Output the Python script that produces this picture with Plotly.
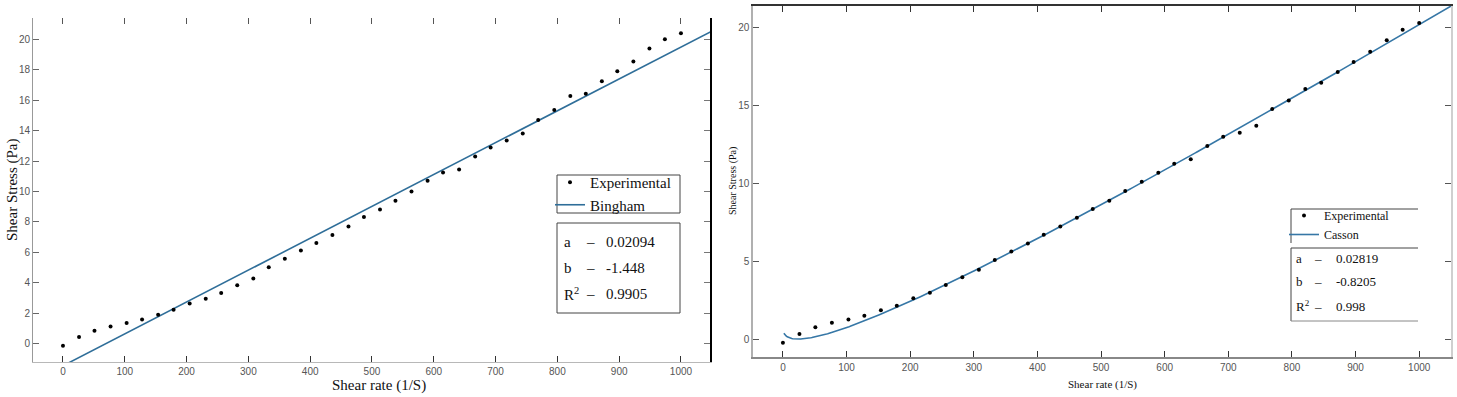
import numpy as np
import plotly.graph_objects as go

W, H = 1457, 397

# ---------------- data ----------------
shear_rate = [0, 26, 51, 77, 103, 128, 154, 179, 205, 231, 256, 282, 308, 333, 359, 385,
              410, 436, 462, 487, 513, 538, 564, 590, 615, 641, 667, 692, 718, 744, 769,
              795, 821, 846, 872, 897, 923, 949, 974, 1000]

stress_left = [-0.13, 0.44, 0.86, 1.14, 1.36, 1.60, 1.91, 2.24, 2.65, 2.96, 3.33, 3.84, 4.28,
               5.02, 5.59, 6.12, 6.62, 7.15, 7.70, 8.33, 8.82, 9.40, 10.0, 10.7, 11.25, 11.45,
               12.3, 12.9, 13.36, 13.82, 14.7, 15.35, 16.27, 16.43, 17.24, 17.9, 18.55, 19.39,
               20.0, 20.39]

stress_right = [-0.24, 0.32, 0.75, 1.05, 1.26, 1.49, 1.84, 2.14, 2.61, 2.97, 3.46, 3.97, 4.44,
                5.06, 5.62, 6.13, 6.69, 7.22, 7.78, 8.33, 8.87, 9.49, 10.08, 10.66, 11.24, 11.52,
                12.37, 12.97, 13.22, 13.67, 14.74, 15.3, 16.03, 16.43, 17.12, 17.76, 18.42,
                19.15, 19.83, 20.26]

bingham_a, bingham_b, bingham_r2 = 0.02094, -1.448, 0.9905
casson_a, casson_b, casson_r2 = 0.02819, -0.8205, 0.998

x_ticks = [0, 100, 200, 300, 400, 500, 600, 700, 800, 900, 1000]
left_y_ticks = [0, 2, 4, 6, 8, 10, 12, 14, 16, 18, 20]
right_y_ticks = [0, 5, 10, 15, 20]

# fitted model curves (evaluated from the fitted parameters)
xb = np.array([0.0, 1060.0])
yb = bingham_a * xb + bingham_b
xc = np.linspace(1.5, 1060, 600)
yc = (np.sqrt(casson_a * xc) + casson_b) ** 2

SERIF = "Liberation Serif, Times New Roman, serif"
SANS = "Liberation Sans, Arial, sans-serif"

def px(xp):
    return xp / W

def py(yp):
    return 1 - yp / H

fig = go.Figure()

# ---------- left panel (Bingham) ----------
fig.add_trace(go.Scatter(x=xb, y=yb, mode="lines", name="Bingham",
                         line=dict(color="#2f6e99", width=1.6),
                         xaxis="x", yaxis="y", legend="legend", legendrank=2))
fig.add_trace(go.Scatter(x=shear_rate, y=stress_left, mode="markers", name="Experimental",
                         marker=dict(color="black", size=4),
                         xaxis="x", yaxis="y", legend="legend", legendrank=1))

# ---------- right panel (Casson) ----------
fig.add_trace(go.Scatter(x=xc, y=yc, mode="lines", name="Casson",
                         line=dict(color="#3677a6", width=1.6),
                         xaxis="x2", yaxis="y2", legend="legend2", legendrank=2))
fig.add_trace(go.Scatter(x=shear_rate, y=stress_right, mode="markers", name="Experimental",
                         marker=dict(color="black", size=4),
                         xaxis="x2", yaxis="y2", legend="legend2", legendrank=1))

# dummy traces for mirror axes
for xa, ya in [("x3", "y"), ("x", "y3"), ("x4", "y2"), ("x2", "y4")]:
    fig.add_trace(go.Scatter(x=[None], y=[None], xaxis=xa, yaxis=ya,
                             showlegend=False, hoverinfo="skip"))

L_XR = [-48.5, 1047]
L_YR = [-1.2, 21.4]
R_XR = [-47, 1050]
R_YR = [-1.15, 21.35]

common = dict(showgrid=False, zeroline=False, ticks="inside", ticklen=6, tickwidth=1)

fig.update_layout(
    width=W, height=H, margin=dict(l=0, r=0, t=0, b=0),
    paper_bgcolor="white", plot_bgcolor="white",
    xaxis=dict(domain=[px(33), px(710)], range=L_XR, anchor="y", tickvals=x_ticks,
               showline=True, linecolor="#b8b8b8", linewidth=1, tickcolor="#333",
               tickfont=dict(family=SANS, size=10, color="#555"), **common),
    yaxis=dict(domain=[py(362), py(18)], range=L_YR, anchor="x", tickvals=left_y_ticks,
               showline=True, linecolor="#999", linewidth=1, tickcolor="#666",
               tickfont=dict(family=SANS, size=10, color="#555"), **common),
    xaxis3=dict(overlaying="x", side="top", anchor="y", range=L_XR, tickvals=x_ticks,
                showline=False, showticklabels=False, tickcolor="#555", **common),
    yaxis3=dict(overlaying="y", side="right", anchor="x", range=L_YR, tickvals=left_y_ticks,
                showline=True, linecolor="black", linewidth=1.5, tickcolor="#777",
                showticklabels=False, **common),
    xaxis2=dict(domain=[px(753), px(1451)], range=R_XR, anchor="y2", tickvals=x_ticks,
                showline=True, linecolor="#888", linewidth=1.5, tickcolor="#333",
                tickfont=dict(family=SANS, size=10, color="#555"), **common),
    yaxis2=dict(domain=[py(357), py(6)], range=R_YR, anchor="x2", tickvals=right_y_ticks,
                showline=True, linecolor="#b0b0b0", linewidth=1.5, tickcolor="#555",
                tickfont=dict(family=SANS, size=10, color="#555"), **common),
    xaxis4=dict(overlaying="x2", side="top", anchor="y2", range=R_XR, tickvals=x_ticks,
                showline=True, linecolor="#333", linewidth=1.5, tickcolor="#333",
                showticklabels=False, **common),
    yaxis4=dict(overlaying="y2", side="right", anchor="x2", range=R_YR, tickvals=right_y_ticks,
                showline=True, linecolor="#cfcfcf", linewidth=1.5, tickcolor="#555",
                showticklabels=False, **common),
    legend=dict(x=px(550), y=py(166), xanchor="left", yanchor="top",
                borderwidth=0, bgcolor="rgba(0,0,0,0)",
                font=dict(family=SERIF, size=15, color="#111"),
                itemwidth=30, tracegroupgap=0),
    legend2=dict(x=px(1284), y=py(201), xanchor="left", yanchor="top",
                 borderwidth=0, bgcolor="rgba(0,0,0,0)",
                 font=dict(family=SERIF, size=12, color="#111"),
                 itemwidth=30, tracegroupgap=0),
    showlegend=True,
)

shapes = [
    # left legend box
    dict(type="rect", xref="paper", yref="paper", x0=px(557), x1=px(680), y0=py(213), y1=py(175),
         line=dict(color="#444", width=1), fillcolor="white", layer="below"),
    # left parameter box
    dict(type="rect", xref="paper", yref="paper", x0=px(557), x1=px(680), y0=py(313), y1=py(223),
         line=dict(color="#444", width=1), fillcolor="white", layer="above"),
    # right legend box (top + left)
    dict(type="line", xref="paper", yref="paper", x0=px(1291), x1=px(1418), y0=py(209), y1=py(209),
         line=dict(color="#444", width=1)),
    dict(type="line", xref="paper", yref="paper", x0=px(1291), x1=px(1291), y0=py(209), y1=py(243),
         line=dict(color="#444", width=1)),
    # right parameter box (top, left, bottom)
    dict(type="line", xref="paper", yref="paper", x0=px(1291), x1=px(1418), y0=py(248), y1=py(248),
         line=dict(color="#444", width=1)),
    dict(type="line", xref="paper", yref="paper", x0=px(1291), x1=px(1291), y0=py(248), y1=py(321),
         line=dict(color="#444", width=1)),
    dict(type="line", xref="paper", yref="paper", x0=px(1291), x1=px(1418), y0=py(321), y1=py(321),
         line=dict(color="#888", width=1)),
]
fig.update_layout(shapes=shapes)

ann = []

def txt(x, y, s, size, xanchor="left", angle=0, family=SERIF, color="#111"):
    ann.append(dict(x=px(x), y=py(y), xref="paper", yref="paper", text=s, showarrow=False,
                    xanchor=xanchor, yanchor="middle", textangle=angle,
                    font=dict(family=family, size=size, color=color)))

# left parameter text
rows_left = [("a", f"{bingham_a}"), ("b", f"{bingham_b}"), ("R<sup>2</sup>", f"{bingham_r2}")]
for (lab, val), yy in zip(rows_left, [242, 268, 294]):
    txt(562, yy, lab, 15)
    txt(590, yy, "–", 15, xanchor="center")
    txt(604, yy, val, 15)

rows_right = [("a", f"{casson_a}"), ("b", f"{casson_b}"), ("R<sup>2</sup>", f"{casson_r2}")]
for (lab, val), yy in zip(rows_right, [258, 281, 306]):
    txt(1294, yy, lab, 13)
    txt(1318, yy, "–", 13, xanchor="center")
    txt(1334, yy, val, 13)

# axis titles
txt(379, 385, "Shear rate (1/S)", 15, xanchor="center")
txt(12, 190, "Shear Stress (Pa)", 15, xanchor="center", angle=-90)
txt(1102, 384, "Shear rate (1/S)", 11, xanchor="center")
txt(733, 181, "Shear Stress (Pa)", 10, xanchor="center", angle=-90)

fig.update_layout(annotations=ann)

fig.write_html("out.html", config={"displayModeBar": False},
               post_script="document.body.style.margin='0';")
